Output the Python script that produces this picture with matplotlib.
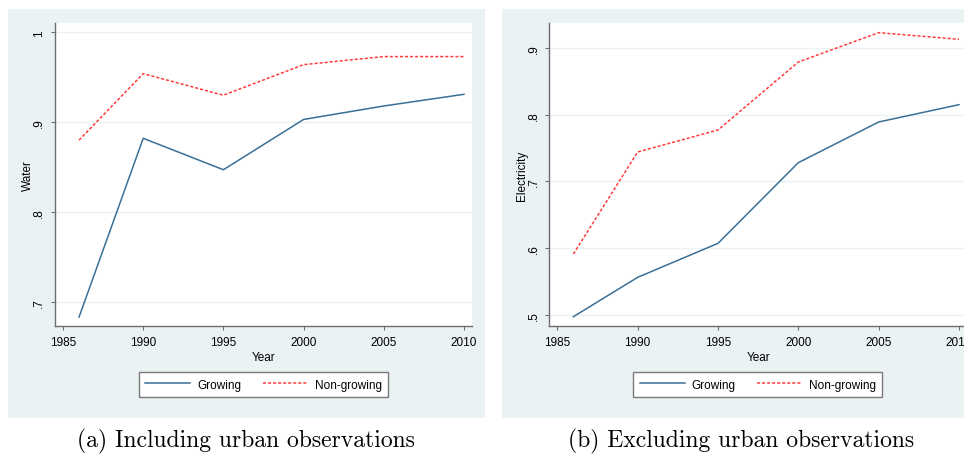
import matplotlib
matplotlib.use("Agg")
import matplotlib.pyplot as plt
from matplotlib.patches import Rectangle

# data
years = [1986, 1990, 1995, 2000, 2005, 2010]
water_growing = [0.683, 0.882, 0.847, 0.903, 0.918, 0.931]
water_nongrowing = [0.880, 0.954, 0.930, 0.964, 0.973, 0.973]
elec_growing = [0.497, 0.556, 0.607, 0.728, 0.789, 0.815]
elec_nongrowing = [0.591, 0.744, 0.777, 0.879, 0.923, 0.913]

xticks = [1985, 1990, 1995, 2000, 2005, 2010]
water_ticks = [0.7, 0.8, 0.9, 1.0]
water_labels = [".7", ".8", ".9", "1"]
elec_ticks = [0.5, 0.6, 0.7, 0.8, 0.9]
elec_labels = [".5", ".6", ".7", ".8", ".9"]
captions = ["(a) Including urban observations", "(b) Excluding urban observations"]

blue = "#3a6f96"
red = "#ff3a3a"
bg = "#eaf2f3"
axcol = "#6e6e6e"

plt.rcParams['font.family'] = ['Liberation Sans', 'DejaVu Sans']

W, H = 964, 456
fig = plt.figure(figsize=(W / 100, H / 100), dpi=100)

def px(x0, y0, x1, y1):
    # pixel box -> figure fraction rect
    return [x0 / W, 1 - y1 / H, (x1 - x0) / W, (y1 - y0) / H]

# light blue graph regions
for (x0, x1) in [(8, 485), (502, 975)]:
    r = px(x0, 10, x1, 419)
    fig.patches.append(Rectangle((r[0], r[1]), r[2], r[3], transform=fig.transFigure,
                                 facecolor=bg, edgecolor="none", zorder=-10))

panels = [
    dict(box=(55, 24, 472, 327), g=water_growing, n=water_nongrowing, ylim=(0.673, 1.0104),
         ticks=water_ticks, labels=water_labels, ylabel="Water", cx=246),
    dict(box=(549.3, 24, 967, 327), g=elec_growing, n=elec_nongrowing, ylim=(0.483, 0.9375),
         ticks=elec_ticks, labels=elec_labels, ylabel="Electricity", cx=741),
]

for i, p in enumerate(panels):
    ax = fig.add_axes(px(*p["box"]))
    ax.set_facecolor("white")
    l1, = ax.plot(years, p["g"], color=blue, lw=1.1, label="Growing")
    l2, = ax.plot(years, p["n"], color=red, lw=1.1, linestyle=(0, (2, 1.3)), label="Non-growing")
    ax.set_xlim(1984.5, 2010.5)
    ax.set_ylim(*p["ylim"])
    ax.set_xticks(xticks)
    ax.set_yticks(p["ticks"])
    ax.set_yticklabels(p["labels"], rotation=90, va="center")
    ax.grid(axis="y", color=bg, lw=1.0)
    ax.set_axisbelow(True)
    for s in ["top", "right"]:
        ax.spines[s].set_visible(False)
    for s in ["left", "bottom"]:
        ax.spines[s].set_color(axcol)
        ax.spines[s].set_linewidth(1.0)
    ax.tick_params(length=3, width=0.8, color=axcol, labelsize=8.5, pad=4)
    ax.set_xlabel("Year", fontsize=8.5, va="center")
    ax.xaxis.set_label_coords(0.5, -0.1023)
    ax.set_ylabel(p["ylabel"], fontsize=8.5, va="center")
    ax.yaxis.set_label_coords(-0.0647, 0.5)

    x0 = p["box"][0]
    lx = (138 - 55 + x0 + 389 - 55 + x0) / 2 / W
    leg = fig.legend(handles=[l1, l2], loc="center", bbox_to_anchor=(lx, 1 - 385.5 / H),
                     ncol=2, fontsize=8.5, frameon=True, fancybox=False, framealpha=1,
                     edgecolor="#7a7a7a", handlelength=3.8, handletextpad=0.6,
                     columnspacing=1.8, borderpad=0.55)
    leg.get_frame().set_linewidth(1.0)

    fig.text(p["cx"] / W, 1 - 441.5 / H, captions[i], family="cmr10",
             fontsize=17, ha="center", va="center")

fig.savefig("out.png", dpi=100)
